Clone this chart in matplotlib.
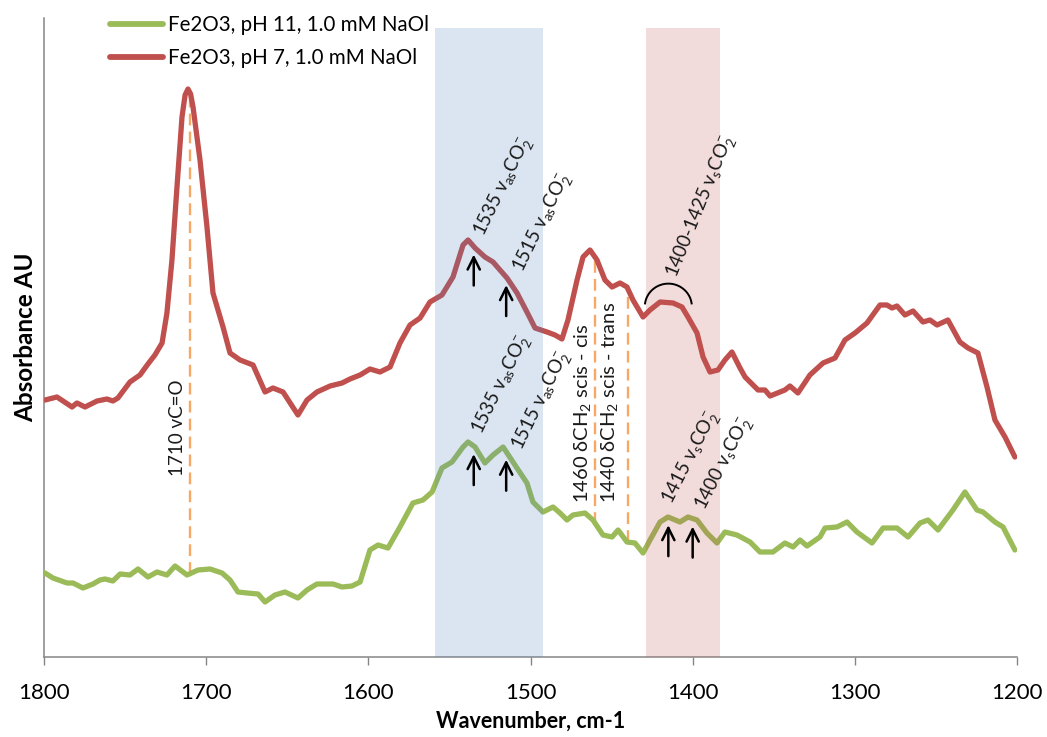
import numpy as np
import matplotlib
matplotlib.use("Agg")
import matplotlib.pyplot as plt

plt.rcParams['font.family'] = ['Lato', 'DejaVu Sans']
plt.rcParams['mathtext.default'] = 'regular'

# Wavenumber (cm-1) and absorbance for the pH 7 spectrum
wn_ph7 = [1799.4, 1792.0, 1782.7, 1779.7, 1774.7, 1767.3, 1761.2, 1757.5, 1754.4, 1747.0,
          1740.8, 1735.9, 1731.6, 1727.2, 1724.2, 1721.1, 1718.0, 1714.9, 1713.0, 1711.2,
          1709.6, 1708.1, 1703.8, 1699.5, 1695.8, 1689.6, 1685.3, 1679.1, 1671.1, 1663.7,
          1658.8, 1652.6, 1643.4, 1637.8, 1631.7, 1623.6, 1616.2, 1611.3, 1605.1, 1599.0,
          1592.8, 1586.6, 1580.5, 1574.3, 1568.1, 1562.0, 1554.6, 1547.8, 1541.6, 1538.5,
          1534.2, 1528.1, 1523.1, 1514.5, 1508.3, 1502.2, 1497.2, 1489.8, 1484.9, 1480.6,
          1476.9, 1471.3, 1467.6, 1463.3, 1459.0, 1454.1, 1449.7, 1444.8, 1440.5, 1436.8,
          1430.6, 1426.3, 1420.1, 1412.1, 1406.6, 1402.9, 1397.3, 1393.6, 1389.3, 1384.4,
          1380.1, 1375.8, 1370.8, 1367.7, 1359.7, 1355.4, 1352.3, 1343.1, 1340.0, 1335.1,
          1327.7, 1319.6, 1312.2, 1306.1, 1299.9, 1292.5, 1284.5, 1280.2, 1277.1, 1274.0,
          1269.1, 1264.1, 1258.0, 1253.7, 1249.3, 1242.6, 1235.2, 1230.2, 1224.1, 1218.5,
          1213.6, 1207.4, 1201.3]
abs_ph7 = [0.257, 0.260, 0.250, 0.254, 0.250, 0.256, 0.258, 0.256, 0.259, 0.275,
           0.282, 0.293, 0.302, 0.314, 0.344, 0.397, 0.470, 0.540, 0.562, 0.568,
           0.563, 0.550, 0.497, 0.430, 0.364, 0.330, 0.304, 0.297, 0.292, 0.265,
           0.269, 0.265, 0.242, 0.257, 0.265, 0.271, 0.274, 0.278, 0.282, 0.288,
           0.285, 0.290, 0.314, 0.332, 0.339, 0.355, 0.362, 0.380, 0.412, 0.417,
           0.409, 0.400, 0.395, 0.379, 0.364, 0.345, 0.329, 0.325, 0.322, 0.318,
           0.337, 0.377, 0.400, 0.407, 0.397, 0.377, 0.370, 0.374, 0.370, 0.357,
           0.340, 0.347, 0.355, 0.354, 0.350, 0.340, 0.324, 0.300, 0.285, 0.287,
           0.297, 0.305, 0.289, 0.280, 0.267, 0.267, 0.261, 0.267, 0.271, 0.264,
           0.282, 0.294, 0.299, 0.317, 0.324, 0.334, 0.352, 0.352, 0.349, 0.351,
           0.342, 0.346, 0.335, 0.337, 0.332, 0.337, 0.315, 0.309, 0.304, 0.270,
           0.237, 0.220, 0.200]

# Wavenumber (cm-1) and absorbance for the pH 11 spectrum
wn_ph11 = [1799.4, 1794.5, 1785.8, 1782.1, 1776.0, 1769.8, 1765.5, 1762.4, 1757.5, 1753.1,
           1747.0, 1742.0, 1735.9, 1730.3, 1724.2, 1719.2, 1711.8, 1705.0, 1697.6, 1690.2,
           1685.3, 1680.4, 1674.8, 1668.0, 1663.7, 1657.6, 1651.4, 1643.4, 1637.8, 1631.7,
           1621.8, 1616.2, 1610.1, 1605.1, 1599.0, 1594.0, 1587.9, 1580.5, 1572.5, 1566.3,
           1560.7, 1554.6, 1548.4, 1541.6, 1538.5, 1534.2, 1528.1, 1523.1, 1516.9, 1509.6,
           1502.2, 1498.5, 1492.3, 1486.1, 1481.8, 1477.5, 1473.8, 1466.4, 1461.5, 1455.3,
           1449.7, 1446.0, 1440.5, 1435.6, 1430.6, 1426.3, 1420.1, 1415.2, 1407.8, 1402.9,
           1397.3, 1391.2, 1385.0, 1380.1, 1372.7, 1364.6, 1358.5, 1350.5, 1343.1, 1338.1,
           1333.8, 1329.5, 1321.5, 1318.4, 1311.0, 1304.8, 1298.7, 1289.4, 1282.6, 1274.0,
           1267.2, 1259.8, 1254.9, 1248.7, 1239.5, 1232.1, 1224.7, 1221.0, 1213.6, 1208.6,
           1201.3]
abs_ph11 = [0.084, 0.079, 0.074, 0.074, 0.069, 0.073, 0.077, 0.078, 0.076, 0.083,
            0.082, 0.088, 0.080, 0.085, 0.082, 0.091, 0.082, 0.087, 0.088, 0.084,
            0.077, 0.065, 0.064, 0.063, 0.055, 0.062, 0.065, 0.059, 0.067, 0.073,
            0.073, 0.070, 0.071, 0.075, 0.107, 0.112, 0.109, 0.130, 0.154, 0.157,
            0.165, 0.189, 0.195, 0.210, 0.215, 0.210, 0.194, 0.202, 0.210, 0.192,
            0.174, 0.155, 0.145, 0.150, 0.144, 0.137, 0.142, 0.144, 0.137, 0.122,
            0.120, 0.127, 0.115, 0.114, 0.104, 0.117, 0.135, 0.140, 0.135, 0.140,
            0.137, 0.124, 0.114, 0.125, 0.122, 0.115, 0.105, 0.105, 0.114, 0.110,
            0.117, 0.111, 0.120, 0.129, 0.130, 0.135, 0.125, 0.114, 0.129, 0.129,
            0.120, 0.134, 0.137, 0.127, 0.147, 0.165, 0.147, 0.145, 0.135, 0.130,
            0.107]

series_labels = ["Fe2O3, pH 11, 1.0 mM NaOl", "Fe2O3, pH 7, 1.0 mM NaOl"]
xticks = [1800, 1700, 1600, 1500, 1400, 1300, 1200]

# Shaded carboxylate regions (cm-1)
band_as = (1559, 1492)
band_s = (1429, 1383)

# Reference wavenumbers marked with dashed lines
dashed_wn = [1710, 1460, 1440]
# Peak positions marked with arrows
arrows_ph7 = [1535, 1515]
arrows_ph11 = [1535, 1515, 1415, 1400]
# Symmetric stretch range bracketed by an arc on the pH 7 spectrum
arc_range = (1425, 1400)

RED = '#C0504D'
GREEN = '#9BBB59'
BLUE = '#4F81BD'
ORANGE = '#F7A865'

fig = plt.figure(figsize=(10.47, 7.37), dpi=100)
ax = fig.add_axes([44/1047, 1-657/737, (1017-44)/1047, (657-18)/737])

wn7 = np.array(wn_ph7); a7 = np.array(abs_ph7)
wn11 = np.array(wn_ph11); a11 = np.array(abs_ph11)

def at(wn, a, w):
    return float(np.interp(w, wn[::-1], a[::-1]))

l11, = ax.plot(wn11, a11, color=GREEN, lw=3.8, solid_joinstyle='round',
               solid_capstyle='round', zorder=3)
l7, = ax.plot(wn7, a7, color=RED, lw=3.8, solid_joinstyle='round',
              solid_capstyle='round', zorder=3)

ymax = 0.639
ax.set_ylim(0, ymax)
ax.set_xlim(1800, 1200)

ax.axvspan(*band_as, ymin=0, ymax=0.629/ymax, color=BLUE, alpha=0.2, lw=0, zorder=4)
ax.axvspan(*band_s, ymin=0, ymax=0.629/ymax, color=RED, alpha=0.2, lw=0, zorder=4)

for w in dashed_wn:
    ax.plot([w, w], [at(wn11, a11, w), at(wn7, a7, w)], color=ORANGE, lw=1.7,
            ls=(0, (5, 2.6)), zorder=2)

# Arrows just under each marked peak
for wn, a, marks in ((wn7, a7, arrows_ph7), (wn11, a11, arrows_ph11)):
    for w in marks:
        tip = at(wn, a, w) - 0.008
        ax.annotate('', xy=(w, tip), xytext=(w, tip - 0.031),
                    arrowprops=dict(arrowstyle='->', lw=1.8, color='black',
                                    mutation_scale=22, shrinkA=0, shrinkB=0),
                    zorder=5)

# Arc over the symmetric stretch region
t = np.linspace(np.radians(8), np.radians(172), 60)
xc = 0.5 * (arc_range[0] + arc_range[1]) + 2.5
yc = at(wn7, a7, xc) - 0.004
ax.plot(xc + 14.5 * np.cos(t), yc + 0.023 * np.sin(t), color='black', lw=1.4, zorder=5)

tc = '#1a1a1a'
fs_rot = 13.5
as_txt = "v$_{as}$CO$_{2}^{-}$"
s_txt = "v$_{s}$CO$_{2}^{-}$"
rot_labels = [
    (1528.7, 0.420, "1535 " + as_txt, 64),
    (1504.6, 0.384, "1515 " + as_txt, 64),
    (1529.9, 0.222, "1535 " + as_txt, 64),
    (1505.2, 0.206, "1515 " + as_txt, 64),
    (1412.7, 0.152, "1415 " + s_txt, 63),
    (1392.4, 0.146, "1400 " + s_txt, 63),
    (1409.7, 0.379, "1400-1425 " + s_txt, 68),
]
for x, y, s, r in rot_labels:
    ax.text(x, y, s, rotation=r, rotation_mode='anchor', ha='left', va='baseline',
            fontsize=fs_rot, color=tc, zorder=6)

ax.text(1717.4, 0.229, "1710 vC=O", rotation=90, ha='center', va='center',
        fontsize=13.5, color=tc, zorder=6)
ax.text(1468.0, 0.154, "1460 δCH$_2$ scis - cis", rotation=90, ha='center', va='bottom',
        fontsize=14.5, color=tc, zorder=6)
ax.text(1451.5, 0.154, "1440 δCH$_2$ scis - trans", rotation=90, ha='center', va='bottom',
        fontsize=14.5, color=tc, zorder=6)

ax.set_xticks(xticks)
ax.set_xticklabels([str(v) for v in xticks], fontsize=16)
ax.set_yticks([])
ax.tick_params(axis='x', direction='out', length=6, width=1, color='#868686', pad=13)
for side in ('top', 'right'):
    ax.spines[side].set_visible(False)
for side in ('left', 'bottom'):
    ax.spines[side].set_color('#868686')
    ax.spines[side].set_linewidth(1.1)

ax.set_xlabel("Wavenumber, cm-1", fontsize=15.5, fontweight='bold', labelpad=5)
ax.set_ylabel("Absorbance AU", fontsize=17.5, fontweight='bold', labelpad=5)

leg = ax.legend([l11, l7], series_labels, loc='upper left',
                bbox_to_anchor=(110/1047, 1-15/737), bbox_transform=fig.transFigure,
                frameon=False, fontsize=14.8, handlelength=2.6, handletextpad=0.2,
                labelspacing=0.65, borderpad=0, borderaxespad=0)
for h in leg.get_lines():
    h.set_linewidth(4.2)

fig.savefig('out.png', dpi=100)
